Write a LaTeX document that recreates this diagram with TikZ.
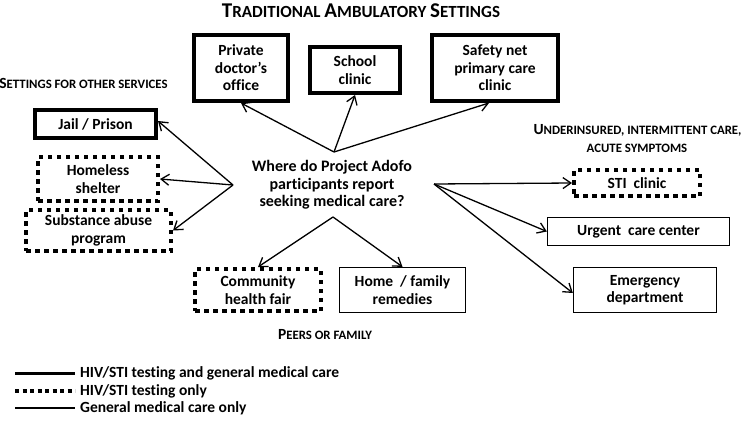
\documentclass[tikz,border=0pt]{standalone}
\usepackage{fontspec}
\setmainfont{Carlito}[Ligatures={NoCommon}]
\usetikzlibrary{arrows.meta}
\newcommand\scx[2]{{\fontsize{#1}{#1}\selectfont #2}}
\tikzset{
  boxtext/.style={font=\bfseries\fontsize{15.5}{17.5}\selectfont, align=center, inner sep=0pt},
  thickbox/.style={boxtext, draw, line width=4pt},
  dotbox/.style={boxtext, draw, line width=4pt, dash pattern=on 4.5pt off 4.5pt},
  thinbox/.style={boxtext, draw, line width=1.3pt},
  heading/.style={font=\bfseries, inner sep=0pt},
  conn/.style={line width=1.3pt, -{Straight Barb[length=8pt,width=11pt]}},
  legtext/.style={font=\bfseries\fontsize{15.5}{17.5}\selectfont, anchor=west, inner sep=0pt}
}
\begin{document}
\begin{tikzpicture}[x=1pt,y=-1pt]
\useasboundingbox (0,0) rectangle (741,423);
% headings
\node[heading] (title) at (361,11) {\scx{21}{T}\scx{17}{RADITIONAL }\scx{21}{A}\scx{17}{MBULATORY }\scx{21}{S}\scx{17}{ETTINGS}};
\node[heading] (other) at (83.5,83) {\scx{15.5}{S}\scx{12.8}{ETTINGS FOR OTHER SERVICES}};
\node[heading] (under) at (637.5,130) {\scx{15.5}{U}\scx{12.8}{NDERINSURED, INTERMITTENT CARE,}};
\node[heading] (acute) at (637,148) {\scx{12.8}{ACUTE SYMPTOMS}};
\node[heading] (peers) at (325,335) {\scx{15.5}{P}\scx{12.8}{EERS OR FAMILY}};
% center question
\node[font=\bfseries\fontsize{16}{17.5}\selectfont, align=center, inner sep=0pt] (q) at (332,185)
  {Where do Project Adofo\\participants report\\seeking medical care?};
% boxes
\node[thickbox, minimum width=94pt, minimum height=66pt] (private) at (241,68) {Private\\doctor's\\office};
\node[thickbox, minimum width=90pt, minimum height=46pt] (school) at (355,70) {School\\clinic};
\node[thickbox, minimum width=126pt, minimum height=66pt] (safety) at (495,68) {Safety net\\primary care\\clinic};
\node[thickbox, minimum width=121pt, minimum height=28pt] (jail) at (95.5,124) {Jail / Prison};
\node[dotbox, minimum width=120pt, minimum height=44pt] (homeless) at (98,179) {Homeless\\shelter};
\node[dotbox, minimum width=145pt, minimum height=41pt] (substance) at (98.5,230.5) {Substance abuse\\program};
\node[dotbox, minimum width=126pt, minimum height=26pt] (sti) at (637,183) {STI\ \ clinic};
\node[thinbox, minimum width=182pt, minimum height=28pt] (urgent) at (638.5,231.5) {Urgent\ \ care center};
\node[thinbox, minimum width=143pt, minimum height=45pt] (emerg) at (645,290) {Emergency\\department};
\node[dotbox, minimum width=126pt, minimum height=42pt] (community) at (258,290) {Community\\health fair};
\node[thinbox, minimum width=126pt, minimum height=45pt] (home) at (402.5,290) {Home\ \ / family\\remedies};
% arrow origins
\coordinate (ctop) at (334,152);
\coordinate (cleft) at (233,185);
\coordinate (cright) at (434,184);
\coordinate (cbot) at (333,217);
\draw[conn] (ctop) -- (private.south);
\draw[conn] (ctop) -- (school.south);
\draw[conn] (ctop) -- ([xshift=-6pt]safety.south);
\draw[conn] (cleft) -- ([yshift=3pt]jail.east);
\draw[conn] (cleft) -- (homeless.east);
\draw[conn] (cleft) -- (substance.east);
\draw[conn] (cright) -- (sti.west);
\draw[conn] (cright) -- (urgent.west);
\draw[conn] (cright) -- ([yshift=-3pt]emerg.west);
\draw[conn] (cbot) -- (community.north);
\draw[conn] (cbot) -- (home.north);
% legend
\coordinate (l1a) at (15,373); \coordinate (l1b) at (75,373);
\coordinate (l2a) at (15,391); \coordinate (l2b) at (75,391);
\coordinate (l3a) at (15,408); \coordinate (l3b) at (75,408);
\draw[line width=3pt] (l1a) -- (l1b);
\draw[line width=3.5pt, dash pattern=on 4pt off 3.5pt] (l2a) -- (l2b);
\draw[line width=1.3pt] (l3a) -- (l3b);
\node[legtext] (lt1) at (80,373) {HIV/STI testing and general medical care};
\node[legtext] (lt2) at (80,391) {HIV/STI testing only};
\node[legtext] (lt3) at (80,408) {General medical care only};
\end{tikzpicture}
\end{document}
